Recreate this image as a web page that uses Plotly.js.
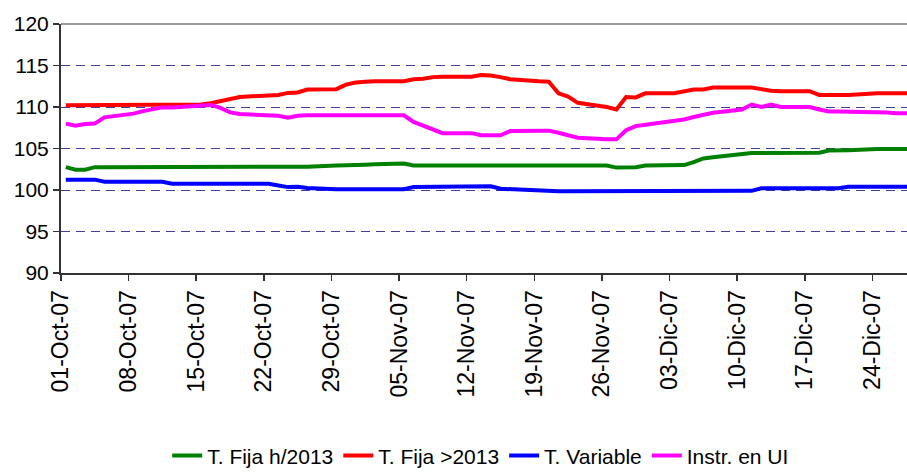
<!DOCTYPE html>
<html>
<head>
<meta charset="utf-8">
<script src="https://cdn.plot.ly/plotly-3.0.1.min.js"></script>
<style>html,body{margin:0;padding:0;background:#fff;}#chart{width:907px;height:472px;}</style>
</head>
<body>
<div id="chart"></div>
<script>
// Business days (values plotted at mid-day)
var dates = [
  "2007-10-01","2007-10-02","2007-10-03","2007-10-04","2007-10-05",
  "2007-10-08","2007-10-09","2007-10-10","2007-10-11","2007-10-12",
  "2007-10-15","2007-10-16","2007-10-17","2007-10-18","2007-10-19",
  "2007-10-22","2007-10-23","2007-10-24","2007-10-25","2007-10-26",
  "2007-10-29","2007-10-30","2007-10-31","2007-11-01","2007-11-02",
  "2007-11-05","2007-11-06","2007-11-07","2007-11-08","2007-11-09",
  "2007-11-12","2007-11-13","2007-11-14","2007-11-15","2007-11-16",
  "2007-11-19","2007-11-20","2007-11-21","2007-11-22","2007-11-23",
  "2007-11-26","2007-11-27","2007-11-28","2007-11-29","2007-11-30",
  "2007-12-03","2007-12-04","2007-12-05","2007-12-06","2007-12-07",
  "2007-12-10","2007-12-11","2007-12-12","2007-12-13","2007-12-14",
  "2007-12-17","2007-12-18","2007-12-19","2007-12-20","2007-12-21",
  "2007-12-24","2007-12-25","2007-12-26","2007-12-27","2007-12-28"
];

var fijaH2013 = [
  102.75,102.45,102.45,102.75,102.75,
  102.75,102.75,102.75,102.75,102.75,
  102.75,102.75,102.75,102.75,102.75,
  102.75,102.75,102.75,102.75,102.8,
  102.95,102.95,103.0,103.05,103.1,
  103.2,102.95,102.95,102.95,102.95,
  102.95,102.95,102.95,102.95,102.95,
  102.95,102.95,102.95,102.95,102.95,
  102.95,102.7,102.7,102.75,102.95,
  102.95,103.0,103.35,103.8,103.95,
  104.4,104.45,104.45,104.45,104.45,
  104.45,104.5,104.75,104.75,104.8,
  104.95,104.95,104.95,104.95,104.95
];

var fijaM2013 = [
  110.2,110.2,110.2,110.2,110.2,
  110.2,110.2,110.2,110.2,110.25,
  110.3,110.45,110.7,111.0,111.2,
  111.4,111.45,111.7,111.75,112.1,
  112.15,112.7,112.95,113.05,113.1,
  113.1,113.35,113.4,113.6,113.65,
  113.65,113.85,113.8,113.6,113.35,
  113.1,113.05,111.65,111.25,110.5,
  110.0,109.7,111.2,111.15,111.65,
  111.65,111.9,112.1,112.1,112.35,
  112.35,112.35,112.15,111.95,111.9,
  111.9,111.45,111.45,111.45,111.45,
  111.65,111.65,111.65,111.65,111.65
];

var variable = [
  101.25,101.25,101.25,101.25,101.0,
  101.0,101.0,101.0,101.0,100.75,
  100.75,100.75,100.75,100.75,100.75,
  100.75,100.55,100.35,100.4,100.25,
  100.1,100.1,100.1,100.1,100.1,
  100.1,100.35,100.35,100.4,100.4,
  100.4,100.45,100.45,100.15,100.1,
  99.85,99.85,99.85,99.85,99.85,
  99.85,99.85,99.85,99.85,99.85,
  99.85,99.85,99.85,99.85,99.85,
  99.85,99.9,100.2,100.2,100.2,
  100.2,100.2,100.2,100.2,100.4,
  100.4,100.4,100.4,100.4,100.4
];

var instrUI = [
  108.0,107.75,107.95,108.0,108.75,
  109.2,109.5,109.75,109.95,109.95,
  110.15,110.25,109.9,109.35,109.15,
  109.0,108.95,108.7,108.95,109.0,
  109.0,109.0,109.0,109.0,109.0,
  109.0,108.2,107.75,107.3,106.85,
  106.85,106.6,106.6,106.6,107.1,
  107.15,107.15,106.9,106.6,106.3,
  106.1,106.1,107.2,107.7,107.85,
  108.3,108.5,108.8,109.05,109.3,
  109.7,110.3,110.0,110.3,110.0,
  110.0,109.7,109.45,109.45,109.45,
  109.45,109.35,109.25,109.25,109.25
];

var seriesNames = ["T. Fija h/2013","T. Fija >2013","T. Variable","Instr. en UI"];
var seriesColors = ["#008000","#ff0000","#0000ff","#ff00ff"];

var tickDates = ["2007-10-01","2007-10-08","2007-10-15","2007-10-22","2007-10-29",
  "2007-11-05","2007-11-12","2007-11-19","2007-11-26","2007-12-03",
  "2007-12-10","2007-12-17","2007-12-24"];
var tickLabels = ["01-Oct-07","08-Oct-07","15-Oct-07","22-Oct-07","29-Oct-07",
  "05-Nov-07","12-Nov-07","19-Nov-07","26-Nov-07","03-Dic-07",
  "10-Dic-07","17-Dic-07","24-Dic-07"];

var xs = dates.map(function(d){ return d + " 12:00"; });
var allSeries = [fijaH2013, fijaM2013, variable, instrUI];

var traces = allSeries.map(function(vals, i){
  return {
    x: xs, y: vals, type: "scatter", mode: "lines",
    name: seriesNames[i],
    line: {color: seriesColors[i], width: 4}
  };
});

var font = "Liberation Sans, Arial, sans-serif";
var layout = {
  width: 907, height: 472,
  margin: {l: 61, r: 0, t: 24, b: 199, autoexpand: false},
  paper_bgcolor: "#fff", plot_bgcolor: "#fff",
  font: {family: font, color: "#000", size: 20},
  showlegend: true,
  legend: {
    orientation: "h", xref: "container", x: 0.53, xanchor: "center",
    yref: "container", y: 0.034, yanchor: "middle",
    font: {family: font, size: 21, color: "#000"}
  },
  xaxis: {
    type: "date", automargin: false,
    range: ["2007-10-01", "2007-12-27 14:00"],
    tickmode: "array", tickvals: tickDates, ticktext: tickLabels,
    tickangle: -90,
    ticks: "outside", ticklen: 6, tickcolor: "#333", tickwidth: 1.5,
    showline: true, linecolor: "#333", linewidth: 2,
    showgrid: false, zeroline: false,
    tickfont: {family: font, size: 23, color: "#000"}
  },
  yaxis: {
    automargin: false,
    range: [90, 120], tick0: 90, dtick: 5,
    ticks: "outside", ticklen: 6, tickcolor: "#333", tickwidth: 1.5,
    showline: true, linecolor: "#333", linewidth: 2,
    showgrid: true, gridcolor: "#40409a", gridwidth: 1, griddash: "9px,6px",
    zeroline: false,
    tickfont: {family: font, size: 21, color: "#000"}
  },
  shapes: [{
    type: "line", xref: "paper", yref: "paper", x0: 0, x1: 1, y0: 1, y1: 1,
    line: {color: "#999", width: 2}
  }]
};

Plotly.newPlot("chart", traces, layout, {staticPlot: true, displayModeBar: false});
</script>
</body>
</html>
